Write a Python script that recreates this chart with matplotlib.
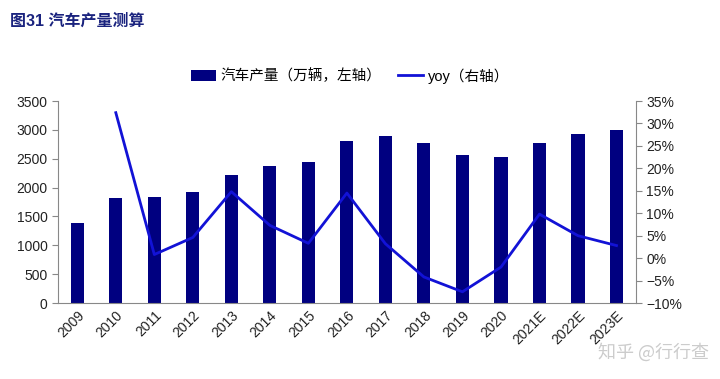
import matplotlib.pyplot as plt
from matplotlib.ticker import PercentFormatter

plt.rcParams['font.family'] = ['Liberation Sans', 'Noto Sans CJK SC', 'DejaVu Sans']

years = ['2009', '2010', '2011', '2012', '2013', '2014', '2015', '2016',
         '2017', '2018', '2019', '2020', '2021E', '2022E', '2023E']
production = [1379, 1826, 1842, 1927, 2212, 2372, 2450, 2812,
              2902, 2781, 2572, 2523, 2780, 2920, 3000]
yoy = [None, 32.4, 0.8, 4.6, 14.8, 7.3, 3.3, 14.5,
       3.2, -4.2, -7.5, -2.0, 9.8, 5.0, 2.8]

fig = plt.figure(figsize=(7.2, 3.79), dpi=100)
ax = fig.add_axes([0.0806, 0.2005, 0.8024, 0.533])
ax2 = ax.twinx()

x = list(range(len(years)))
bars = ax.bar(x, production, width=0.34, color='#000080', zorder=2)
lx = [i for i, v in zip(x, yoy) if v is not None]
ly = [v for v in yoy if v is not None]
line, = ax2.plot(lx, ly, color='#1212d6', linewidth=2)

ax.set_xlim(-0.5, len(years) - 0.5)
ax.set_ylim(0, 3500)
ax.set_yticks(range(0, 3501, 500))
ax2.set_ylim(-10, 35)
ax2.set_yticks(range(-10, 36, 5))
ax2.yaxis.set_major_formatter(PercentFormatter(decimals=0))

ax.set_xticks(x)
ax.set_xticklabels(years, rotation=45, ha='right', rotation_mode='anchor')

for a in (ax, ax2):
    for s in a.spines.values():
        s.set_visible(False)
    a.tick_params(labelsize=10, colors='#222222', length=4, color='#888888')
ax.spines['left'].set_visible(True)
ax.spines['bottom'].set_visible(True)
ax2.spines['right'].set_visible(True)
for s in (ax.spines['left'], ax.spines['bottom'], ax2.spines['right']):
    s.set_color('#888888')
ax.tick_params(axis='x', length=0, pad=4)

fig.legend([bars, line], ['汽车产量（万辆，左轴）', 'yoy（右轴）'],
           loc='center', bbox_to_anchor=(0.486, 0.80), ncol=2, frameon=False,
           handlelength=1.7, handletextpad=0.3, columnspacing=1.2,
           prop={'family': ['Liberation Sans', 'Noto Sans CJK SC'], 'size': 10.5})

fig.text(0.014, 0.945, '图31 汽车产量测算', fontsize=11.5, fontweight='bold',
         color='#1a237e', va='center', family=['Liberation Sans', 'Noto Sans CJK SC'])
fig.text(0.985, 0.07, '知乎 @行行查', fontsize=13, color='#cccccc', ha='right',
         va='center', family=['Noto Sans CJK SC'])

fig.savefig('out.png', dpi=100)
